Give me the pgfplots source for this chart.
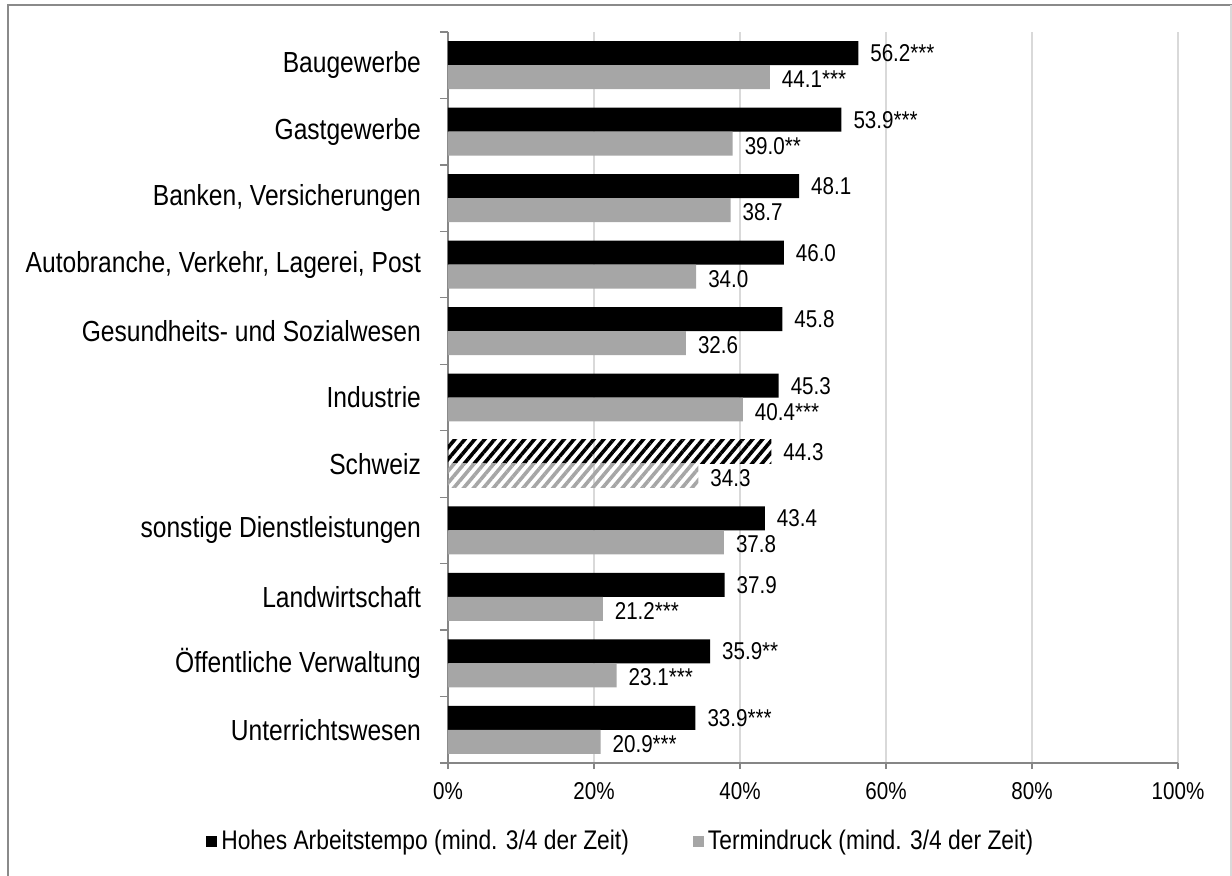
\documentclass[border=0pt]{standalone}
\usepackage{fontspec}
\setmainfont{Liberation Sans}
\usepackage{pgfplots}
\pgfplotsset{compat=1.18}
\usepackage{pgfplotstable}
\usetikzlibrary{patterns.meta, calc}

\definecolor{bargray}{HTML}{A6A6A6}
\definecolor{gridgray}{HTML}{D9D9D9}
\definecolor{axisgray}{HTML}{868686}
\definecolor{framegray}{HTML}{8A8A8A}

% y: 10 = Baugewerbe (top) ... 0 = Unterrichtswesen (bottom); 4 = Schweiz (hatched, below)
\pgfplotstableread{
y val lab
10 56.2 56.2***
9 53.9 53.9***
8 48.1 48.1
7 46.0 46.0
6 45.8 45.8
5 45.3 45.3
3 43.4 43.4
2 37.9 37.9
1 35.9 35.9**
0 33.9 33.9***
}\tempo

\pgfplotstableread{
y val lab
10 44.1 44.1***
9 39.0 39.0**
8 38.7 38.7
7 34.0 34.0
6 32.6 32.6
5 40.4 40.4***
3 37.8 37.8
2 21.2 21.2***
1 23.1 23.1***
0 20.9 20.9***
}\termin

\begin{document}
\begin{tikzpicture}
\begin{axis}[
  name=ax,
  scale only axis,
  width=365pt, height=365.5pt,
  xmin=0, xmax=100, ymin=-0.5, ymax=10.5,
  enlargelimits=false,
  bar width=0.361,
  xtick={0,20,...,100},
  xticklabel={\pgfmathprintnumber{\tick}\%},
  ytick={0,...,10},
  yticklabels={Unterrichtswesen, Öffentliche Verwaltung, Landwirtschaft,
    sonstige Dienstleistungen, Schweiz, Industrie,
    Gesundheits- und Sozialwesen, {Autobranche, Verkehr, Lagerei, Post},
    {Banken, Versicherungen}, Gastgewerbe, Baugewerbe},
  minor ytick={-0.5,0.5,...,10.5},
  axis x line*=bottom, axis y line*=left,
  axis line style={-, axisgray, line width=0.6pt},
  tick align=outside,
  major tick length=3pt, minor tick length=4pt,
  tick style={axisgray, line width=0.6pt},
  major y tick style={draw=none},
  xmajorgrids,
  grid style={gridgray, line width=0.6pt},
  /pgf/number format/assume math mode=true,
  xticklabel style={font=\fontsize{10.3}{12}\selectfont, yscale=1.18, yshift=-2pt},
  yticklabel style={font=\fontsize{12.3}{14}\selectfont, yscale=1.18, xshift=-7pt},
  nodes near coords,
  point meta=explicit symbolic,
  every node near coord/.append style={font=\fontsize{10.3}{12}\selectfont,
    anchor=west, xshift=2.5pt, yscale=1.18, black},
  legend style={draw=none, at={(0.238,-0.108)}, anchor=center, legend columns=2,
    font=\fontsize{11.4}{13}\selectfont, nodes={yscale=1.18},
    /tikz/every even column/.append style={column sep=30pt}},
  legend image code/.code={\fill[#1] (0pt,-2.75pt) rectangle (5.5pt,2.75pt);},
]
\addplot[xbar, fill=black, draw=none, bar shift=0.1805,
  every node near coord/.append style={yshift=5pt}]
  table[x=val, y=y, meta=lab] {\tempo};
\addplot[xbar, fill=bargray, draw=none, bar shift=-0.1805,
  every node near coord/.append style={yshift=-6pt}]
  table[x=val, y=y, meta=lab] {\termin};
% Schweiz: hatched
\addplot[xbar, draw=none, bar shift=0.1805, forget plot,
  every node near coord/.append style={yshift=5pt},
  pattern={Lines[angle=50, distance=3.8pt, line width=1.8pt]}, pattern color=black]
  coordinates {(44.3,4) [44.3]};
\addplot[xbar, draw=none, bar shift=-0.1805, forget plot,
  every node near coord/.append style={yshift=-6pt},
  pattern={Lines[angle=50, distance=3.8pt, line width=1.8pt]}, pattern color=bargray]
  coordinates {(34.3,4) [34.3]};
\legend{Hohes Arbeitstempo (mind. 3/4 der Zeit), Termindruck (mind. 3/4 der Zeit)}
\end{axis}
% outer chart frame
\draw[framegray, line width=1.2pt]
  ($(ax.south west)+(-220pt,-60pt)$) -- ($(ax.south west)+(-220pt,379pt)$)
  -- ($(ax.south west)+(392pt,379pt)$);
\draw[gridgray, line width=0.6pt]
  ($(ax.south west)+(391.5pt,379pt)$) -- ($(ax.south west)+(391.5pt,-60pt)$);
\pgfresetboundingbox
\path[use as bounding box] ($(ax.south west)+(-224pt,-56pt)$) rectangle ($(ax.south west)+(392pt,381.5pt)$);
\end{tikzpicture}
\end{document}
